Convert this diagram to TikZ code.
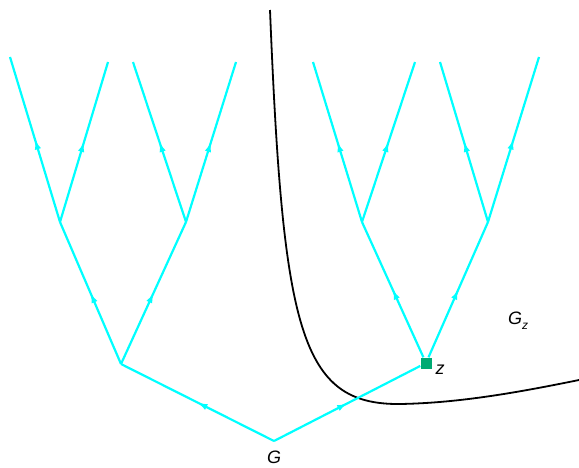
\documentclass[tikz,border=0pt]{standalone}
\usepackage{fontspec}
\setmainfont{Liberation Sans}
\usetikzlibrary{decorations.markings,arrows.meta}
\definecolor{zgreen}{RGB}{0,170,115}
\definecolor{tcyan}{RGB}{0,255,255}
\begin{document}
\begin{tikzpicture}[x=1pt,y=-1pt,
  edge/.style={tcyan, line width=2.2pt, postaction={decorate},
    decoration={markings, mark=at position 0.5 with {\arrow[tcyan]{Latex[length=10pt,width=6.5pt]}}}},
  vtx/.style={coordinate},
  zbox/.style={rectangle, fill=zgreen, minimum size=11pt, inner sep=0pt},
  lab/.style={font=\fontsize{18}{21}\selectfont\itshape, inner sep=0pt},
  curve/.style={black, line width=1.8pt}]
\useasboundingbox (0,0) rectangle (579,467);
% vertices
\node[vtx] (r) at (274,441) {};
\node[vtx] (a) at (121,364) {};
\node[zbox] (z) at (426,363) {};
\node[vtx] (aa) at (60,222) {};
\node[vtx] (ab) at (186,222) {};
\node[vtx] (za) at (362,222) {};
\node[vtx] (zb) at (488,222) {};
\node[vtx] (l1) at (10,57) {};
\node[vtx] (l2) at (108,62) {};
\node[vtx] (l3) at (133,62) {};
\node[vtx] (l4) at (236,62) {};
\node[vtx] (l5) at (313,62) {};
\node[vtx] (l6) at (415,62) {};
\node[vtx] (l7) at (440,62) {};
\node[vtx] (l8) at (539,57) {};
% black curve
\draw[curve] (270,10) .. controls (283,330) and (300,405) .. (400,404)
  .. controls (460,403) and (520,392) .. (579,380);
% edges
\draw[edge] (r) -- (a);
\draw[edge] (r) -- (z);
\draw[edge] (a) -- (aa);
\draw[edge] (a) -- (ab);
\draw[edge] (z) -- (za);
\draw[edge] (z) -- (zb);
\draw[edge] (aa) -- (l1);
\draw[edge] (aa) -- (l2);
\draw[edge] (ab) -- (l3);
\draw[edge] (ab) -- (l4);
\draw[edge] (za) -- (l5);
\draw[edge] (za) -- (l6);
\draw[edge] (zb) -- (l7);
\draw[edge] (zb) -- (l8);
\node[zbox] at (z) {};
% labels
\node[lab] (gl) at (274,457) {G};
\node[lab] (zl) at (440,370) {z};
\node[lab] (gzl) at (518,321) {G\raisebox{-0.3em}{\fontsize{12}{14}\selectfont z}};
\end{tikzpicture}
\end{document}
